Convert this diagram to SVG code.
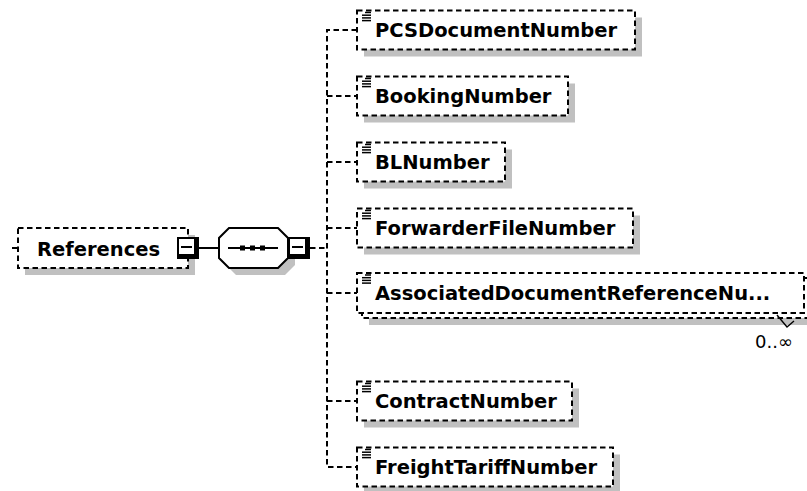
<svg xmlns="http://www.w3.org/2000/svg" xmlns:xlink="http://www.w3.org/1999/xlink" width="807" height="491" viewBox="0 0 807 491">
<style>
.bg{fill:#ffffff}
.box{fill:#ffffff;stroke:#000;stroke-width:2;stroke-dasharray:5.5,3.5}
.sh{fill:#c0c0c0}
.lbl{font-family:"DejaVu Sans","Verdana",sans-serif;font-weight:bold;font-size:19.5px;fill:#000}
.occ{font-family:"DejaVu Sans","Verdana",sans-serif;font-size:18px;fill:#000}
.con{fill:none;stroke:#000;stroke-width:2;stroke-dasharray:5.5,3.5}
.solid{fill:none;stroke:#000;stroke-width:2}
.ico{stroke:#000;stroke-width:1.5}
</style>
<defs>
<g id="ico">
<line class="ico" x1="8" y1="2" x2="14" y2="2"/>
<line class="ico" x1="5" y1="4.7" x2="14" y2="4.7"/>
<line class="ico" x1="5" y1="7.4" x2="14" y2="7.4"/>
<line class="ico" x1="5" y1="10.1" x2="14" y2="10.1"/>
</g>
<g id="minus">
<rect x="0" y="0" width="22" height="22" fill="#000"/>
<rect x="2" y="2" width="15" height="15" fill="#fff"/>
<line x1="4" y1="10" x2="15" y2="10" stroke="#000" stroke-width="2"/>
</g>
</defs>
<rect class="bg" x="0" y="0" width="807" height="491"/>

<g id="connectors">
<line class="con" x1="12" y1="248" x2="18" y2="248"/>
<line class="solid" x1="198" y1="248" x2="219" y2="248"/>
<line class="con" x1="310" y1="248" x2="327" y2="248"/>
<path class="con" d="M357,30 H327 V467 H357"/>
<line class="con" x1="327" y1="96" x2="357" y2="96"/>
<line class="con" x1="327" y1="162" x2="357" y2="162"/>
<line class="con" x1="327" y1="228" x2="357" y2="228"/>
<line class="con" x1="327" y1="293" x2="357" y2="293"/>
<line class="con" x1="327" y1="401" x2="357" y2="401"/>
</g>

<g id="node-References">
<rect class="sh" x="25" y="235" width="170" height="40"/>
<rect class="box" x="18" y="228" width="170" height="40"/>
<text class="lbl" x="37" y="256">References</text>
<use xlink:href="#minus" x="177" y="237"/>
</g>

<g id="node-sequence">
<polygon class="sh" points="236,235 285,235 295,245 295,265 285,275 236,275 226,265 226,245"/>
<polygon fill="#fff" stroke="#000" stroke-width="2" points="229,228 278,228 288,238 288,258 278,268 229,268 219,258 219,238"/>
<line class="solid" x1="228" y1="248" x2="278" y2="248"/>
<rect x="240" y="245.5" width="5" height="5" fill="#000"/>
<rect x="250" y="245.5" width="5" height="5" fill="#000"/>
<rect x="260" y="245.5" width="5" height="5" fill="#000"/>
<use xlink:href="#minus" x="288" y="237"/>
</g>

<g id="node-PCSDocumentNumber">
<rect class="sh" x="364" y="17.5" width="278" height="39"/>
<rect class="box" x="357" y="10.5" width="278" height="39"/>
<use xlink:href="#ico" x="357" y="10.5"/>
<text class="lbl" x="375" y="37">PCSDocumentNumber</text>
</g>

<g id="node-BookingNumber">
<rect class="sh" x="364" y="83.5" width="211" height="39"/>
<rect class="box" x="357" y="76.5" width="211" height="39"/>
<use xlink:href="#ico" x="357" y="76.5"/>
<text class="lbl" x="375" y="103">BookingNumber</text>
</g>

<g id="node-BLNumber">
<rect class="sh" x="364" y="149.5" width="148" height="39"/>
<rect class="box" x="357" y="142.5" width="148" height="39"/>
<use xlink:href="#ico" x="357" y="142.5"/>
<text class="lbl" x="375" y="169">BLNumber</text>
</g>

<g id="node-ForwarderFileNumber">
<rect class="sh" x="364" y="215.5" width="276" height="39"/>
<rect class="box" x="357" y="208.5" width="276" height="39"/>
<use xlink:href="#ico" x="357" y="208.5"/>
<text class="lbl" x="375" y="235">ForwarderFileNumber</text>
</g>

<g id="node-AssociatedDocumentReferenceNumber">
<rect class="sh" x="369" y="285" width="447" height="40"/>
<rect class="box" x="362" y="278" width="447" height="40"/>
<rect class="box" x="357" y="273" width="447" height="40"/>
<use xlink:href="#ico" x="357" y="273"/>
<text class="lbl" x="375" y="300">AssociatedDocumentReferenceNu...</text>
<polyline fill="none" stroke="#000" stroke-width="1.4" points="777,315 787,327 794,321"/>
<text class="occ" x="793" y="348" text-anchor="end">0..∞</text>
</g>

<g id="node-ContractNumber">
<rect class="sh" x="364" y="388.5" width="215" height="39"/>
<rect class="box" x="357" y="381.5" width="215" height="39"/>
<use xlink:href="#ico" x="357" y="381.5"/>
<text class="lbl" x="375" y="408">ContractNumber</text>
</g>

<g id="node-FreightTariffNumber">
<rect class="sh" x="364" y="454.5" width="256" height="39"/>
<rect class="box" x="357" y="447.5" width="256" height="39"/>
<use xlink:href="#ico" x="357" y="447.5"/>
<text class="lbl" x="375" y="474">FreightTariffNumber</text>
</g>
</svg>
